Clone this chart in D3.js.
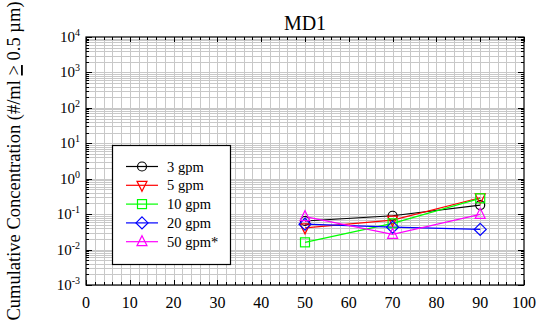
<!DOCTYPE html>
<html>
<head>
<meta charset="utf-8">
<script src="https://cdn.jsdelivr.net/npm/d3@7"></script>
</head>
<body style="margin:0;background:#fff">
<div id="chart"></div>
<script>
// data
const flows = [50, 70, 90];
const seriesNames = ["3 gpm", "5 gpm", "10 gpm", "20 gpm", "50 gpm*"];
const gpm3 = [0.064, 0.090, 0.18];
const gpm5 = [0.041, 0.068, 0.29];
const gpm10 = [0.016, 0.055, 0.28];
const gpm20 = [0.052, 0.043, 0.037];
const gpm50 = [0.085, 0.027, 0.099];
const seriesColors = ["#000000", "#ff0000", "#00ff00", "#0000ff", "#ff00ff"];
const seriesSymbols = ["circle", "down", "square", "diamond", "up"];
const xTicks = [0, 10, 20, 30, 40, 50, 60, 70, 80, 90, 100];
const yExps = [-3, -2, -1, 0, 1, 2, 3, 4];

const width = 540, height = 326;
const m = {left: 86, right: 16, top: 37, bottom: 41};
const serif = "Liberation Serif";

const svg = d3.select('#chart').append('svg')
  .attr('width', width).attr('height', height);

const x = d3.scaleLinear().domain([0, 100]).range([m.left, width - m.right]);
const y = d3.scaleLog().domain([1e-3, 1e4]).range([height - m.bottom, m.top]);

// grid
const minorY = [];
yExps.slice(0, -1).forEach(e => { for (let k = 1; k <= 9; k++) minorY.push(k * Math.pow(10, e)); });
svg.append('g').selectAll('line.h').data(minorY).enter().append('line')
  .attr('x1', x(0)).attr('x2', x(100))
  .attr('y1', d => Math.round(y(d)) + 0.5).attr('y2', d => Math.round(y(d)) + 0.5)
  .attr('stroke', '#c8c8c8').attr('stroke-width', 1);
svg.append('g').selectAll('line.v').data(d3.range(2, 100, 2)).enter().append('line')
  .attr('y1', y(1e4)).attr('y2', y(1e-3))
  .attr('x1', d => Math.round(x(d)) + 0.5).attr('x2', d => Math.round(x(d)) + 0.5)
  .attr('stroke', '#c8c8c8').attr('stroke-width', 1);

// ticks (inward, all four sides)
const tickG = svg.append('g').attr('stroke', '#000').attr('stroke-width', 1);
d3.range(0, 101, 2).forEach(v => {
  const len = v % 10 === 0 ? 5 : 3;
  const px = Math.round(x(v)) + 0.5;
  tickG.append('line').attr('x1', px).attr('x2', px).attr('y1', y(1e-3)).attr('y2', y(1e-3) - len);
  tickG.append('line').attr('x1', px).attr('x2', px).attr('y1', y(1e4)).attr('y2', y(1e4) + len);
});
minorY.concat([1e4]).forEach(v => {
  const major = Math.abs(Math.log10(v) - Math.round(Math.log10(v))) < 1e-9;
  const len = major ? 6 : 3;
  const py = Math.round(y(v)) + 0.5;
  tickG.append('line').attr('x1', x(0)).attr('x2', x(0) + len).attr('y1', py).attr('y2', py);
  tickG.append('line').attr('x1', x(100)).attr('x2', x(100) - len).attr('y1', py).attr('y2', py);
});

// frame
svg.append('rect').attr('x', x(0)).attr('y', y(1e4))
  .attr('width', x(100) - x(0)).attr('height', y(1e-3) - y(1e4))
  .attr('fill', 'none').attr('stroke', '#000').attr('stroke-width', 1.2);

// tick labels
svg.append('g').selectAll('text').data(xTicks).enter().append('text')
  .attr('font-family', serif)
  .attr('x', d => x(d)).attr('y', 308)
  .attr('text-anchor', 'middle').attr('font-size', 16).text(d => d);

const yl = svg.append('g').selectAll('text').data(yExps).enter().append('text')
  .attr('font-family', serif)
  .attr('x', 80).attr('y', d => y(Math.pow(10, d)) + 5)
  .attr('text-anchor', 'end').attr('font-size', 15);
yl.append('tspan').text('10');
yl.append('tspan').attr('dy', -6).attr('font-size', 10).text(d => d);

// title and axis label
svg.append('text').attr('font-family', serif).attr('x', x(50)).attr('y', 30)
  .attr('text-anchor', 'middle').attr('font-size', 20).text('MD1');

const ylab = svg.append('text').attr('font-family', serif)
  .attr('transform', 'translate(20,161) rotate(-90)')
  .attr('text-anchor', 'middle').attr('font-size', 18.5);
ylab.append('tspan').text('Cumulative Concentration (#/ml ');
ylab.append('tspan').attr('text-decoration', 'underline').text('>');
ylab.append('tspan').text(' 0.5 µm)');

// symbols
function drawSymbol(g, type, cx, cy, color) {
  const s = 5;
  let el;
  if (type === 'circle') el = g.append('circle').attr('cx', cx).attr('cy', cy).attr('r', 4.5);
  else if (type === 'square') el = g.append('rect').attr('x', cx - 4.5).attr('y', cy - 4.5).attr('width', 9).attr('height', 9);
  else if (type === 'diamond') el = g.append('path').attr('d', `M${cx},${cy - 6}L${cx + 6},${cy}L${cx},${cy + 6}L${cx - 6},${cy}Z`);
  else if (type === 'up') el = g.append('path').attr('d', `M${cx},${cy - s - 1}L${cx + s},${cy + s - 1}L${cx - s},${cy + s - 1}Z`);
  else el = g.append('path').attr('d', `M${cx},${cy + s + 1}L${cx + s},${cy - s + 1}L${cx - s},${cy - s + 1}Z`);
  el.attr('fill', 'none').attr('stroke', color).attr('stroke-width', 1.2);
}

const allSeries = [gpm3, gpm5, gpm10, gpm20, gpm50];
const line = d3.line().x((d, i) => x(flows[i])).y(d => y(d));
const plot = svg.append('g');
allSeries.forEach((vals, si) => {
  plot.append('path').datum(vals).attr('d', line)
    .attr('fill', 'none').attr('stroke', seriesColors[si]).attr('stroke-width', 1.2);
});
allSeries.forEach((vals, si) => {
  vals.forEach((v, i) => drawSymbol(plot, seriesSymbols[si], x(flows[i]), y(v), seriesColors[si]));
});

// legend
const lg = svg.append('g');
lg.append('rect').attr('x', 112.5).attr('y', 145.5).attr('width', 118).attr('height', 119)
  .attr('fill', '#fff').attr('stroke', '#000').attr('stroke-width', 1.2);
seriesNames.forEach((name, i) => {
  const ly = 166.5 + i * 18.8;
  lg.append('line').attr('x1', 126).attr('x2', 158).attr('y1', ly).attr('y2', ly)
    .attr('stroke', seriesColors[i]).attr('stroke-width', 1.2);
  drawSymbol(lg, seriesSymbols[i], 142, ly, seriesColors[i]);
  lg.append('text').attr('font-family', serif).attr('x', 167).attr('y', ly + 5)
    .attr('font-size', 14.5).text(name);
});
</script>
</body>
</html>
